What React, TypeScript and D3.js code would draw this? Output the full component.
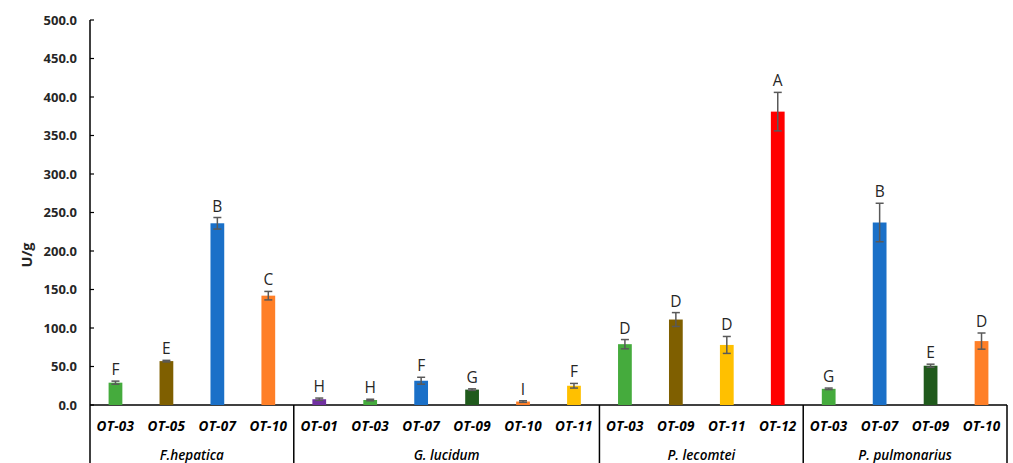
import React, { useEffect, useRef } from "react";
import * as d3 from "d3";

const groups = ["F.hepatica", "G. lucidum", "P. lecomtei", "P. pulmonarius"];
const groupOf = [0, 0, 0, 0, 1, 1, 1, 1, 1, 1, 2, 2, 2, 2, 3, 3, 3, 3];
const strains = [
  "OT-03", "OT-05", "OT-07", "OT-10",
  "OT-01", "OT-03", "OT-07", "OT-09", "OT-10", "OT-11",
  "OT-03", "OT-09", "OT-11", "OT-12",
  "OT-03", "OT-07", "OT-09", "OT-10",
];
const values = [29, 57, 236, 142, 7.5, 6.5, 31.5, 20, 4.5, 25, 79, 111, 78, 381, 21, 237, 51, 83];
const errors = [2, 1, 7.5, 5.5, 1.5, 1, 4.5, 1, 1, 3, 6, 9, 11, 25, 1, 25, 2, 10.5];
const letters = ["F", "E", "B", "C", "H", "H", "F", "G", "I", "F", "D", "D", "D", "A", "G", "B", "E", "D"];
const yTicks = [0, 50, 100, 150, 200, 250, 300, 350, 400, 450, 500];

const palette = [
  "#45ab3d", "#7f5f00", "#1a70c8", "#ff7f27",
  "#7030a0", "#45ab3d", "#1a70c8", "#205a1c", "#ff7f27", "#ffc000",
  "#45ab3d", "#7f5f00", "#ffc000", "#ff0000",
  "#45ab3d", "#1a70c8", "#205a1c", "#ff7f27",
];

const W = 1013;
const H = 463;

export default function App() {
  const ref = useRef<SVGSVGElement | null>(null);

  useEffect(() => {
    const svg = d3.select(ref.current);
    svg.selectAll("*").remove();
    const font = "'Open Sans', sans-serif";
    const left = 90;
    const right = 1007;
    const base = 405;

    const y = d3.scaleLinear().domain([0, 500]).range([base, 20]);
    const x = d3
      .scaleBand<number>()
      .domain(d3.range(strains.length))
      .range([left, right])
      .paddingInner(0.73)
      .paddingOuter(0.365);
    const step = x.step();

    // y axis
    svg.append("line").attr("x1", left).attr("x2", left).attr("y1", y(500)).attr("y2", H)
      .attr("stroke", "#000").attr("stroke-width", 1.5);
    const yt = svg.append("g");
    yt.selectAll("line").data(yTicks).enter().append("line")
      .attr("x1", left).attr("x2", left + 4)
      .attr("y1", (d) => y(d)).attr("y2", (d) => y(d))
      .attr("stroke", "#000").attr("stroke-width", 1.2);
    yt.selectAll("text").data(yTicks).enter().append("text")
      .attr("x", 77).attr("y", (d) => y(d) + 4.5)
      .attr("text-anchor", "end")
      .attr("font-family", font).attr("font-weight", "bold").attr("font-size", 13)
      .attr("fill", "#262626")
      .text((d) => d.toFixed(1));

    svg.append("text")
      .attr("transform", "translate(32,255) rotate(-90)")
      .attr("text-anchor", "middle")
      .attr("font-family", font).attr("font-weight", "bold").attr("font-size", 14.5)
      .attr("fill", "#262626")
      .text("U/g");

    // category axis
    svg.append("line").attr("x1", left).attr("x2", right).attr("y1", base).attr("y2", base)
      .attr("stroke", "#000").attr("stroke-width", 1.5);
    const bounds: number[] = [];
    groupOf.forEach((g, i) => { if (i > 0 && g !== groupOf[i - 1]) bounds.push(i); });
    bounds.push(strains.length);
    svg.selectAll(".sep").data(bounds).enter().append("line")
      .attr("x1", (d) => left + step * d).attr("x2", (d) => left + step * d)
      .attr("y1", base).attr("y2", H)
      .attr("stroke", "#000").attr("stroke-width", 1.5);

    svg.selectAll(".cat").data(strains).enter().append("text")
      .attr("x", (_d, i) => (x(i) as number) + x.bandwidth() / 2)
      .attr("y", 431)
      .attr("text-anchor", "middle")
      .attr("font-family", font).attr("font-weight", "bold").attr("font-style", "italic")
      .attr("font-size", 13.5).attr("letter-spacing", 0.3).attr("fill", "#000")
      .text((d) => d);

    groups.forEach((g, gi) => {
      const idx = groupOf.map((v, i) => (v === gi ? i : -1)).filter((i) => i >= 0);
      const x0 = left + step * idx[0];
      const x1 = left + step * (idx[idx.length - 1] + 1);
      svg.append("text")
        .attr("x", (x0 + x1) / 2).attr("y", 460)
        .attr("text-anchor", "middle")
        .attr("font-family", font).attr("font-weight", 600).attr("font-style", "italic")
        .attr("font-size", 13.5).attr("fill", "#000")
        .text(g);
    });

    // bars
    svg.selectAll(".bar").data(values).enter().append("rect")
      .attr("x", (_d, i) => x(i) as number)
      .attr("width", x.bandwidth())
      .attr("y", (d) => y(d))
      .attr("height", (d) => base - y(d))
      .attr("fill", (_d, i) => palette[i]);

    // error bars
    const eb = svg.selectAll(".err").data(values).enter().append("g")
      .attr("stroke", "#595959").attr("stroke-width", 1.5);
    eb.each(function (d, i) {
      const cx = (x(i) as number) + x.bandwidth() / 2;
      const g = d3.select(this);
      const e = errors[i];
      g.append("line").attr("x1", cx).attr("x2", cx).attr("y1", y(d - e)).attr("y2", y(d + e));
      g.append("line").attr("x1", cx - 4).attr("x2", cx + 4).attr("y1", y(d + e)).attr("y2", y(d + e));
      g.append("line").attr("x1", cx - 4).attr("x2", cx + 4).attr("y1", y(d - e)).attr("y2", y(d - e));
    });

    svg.selectAll(".lbl").data(letters).enter().append("text")
      .attr("x", (_d, i) => (x(i) as number) + x.bandwidth() / 2)
      .attr("y", (_d, i) => y(values[i] + errors[i]) - 6)
      .attr("text-anchor", "middle")
      .attr("font-family", font).attr("font-size", 15.5).attr("fill", "#262626")
      .text((d) => d);
  }, []);

  return (
    <div style={{ position: "absolute", left: 0, top: 0 }}>
      <svg ref={ref} width={W} height={H} style={{ display: "block", background: "#fff" }} />
    </div>
  );
}
